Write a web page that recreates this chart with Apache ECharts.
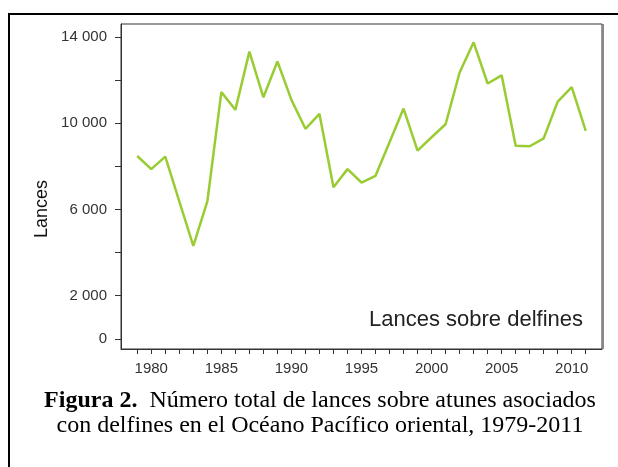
<!DOCTYPE html>
<html>
<head>
<meta charset="utf-8">
<script src="https://cdn.jsdelivr.net/npm/echarts@6/dist/echarts.min.js"></script>
<style>
html,body{margin:0;padding:0;background:#fff;}
#chart{width:618px;height:467px;}
</style>
</head>
<body>
<div id="chart"></div>
<script>
var years = [1979,1980,1981,1982,1983,1984,1985,1986,1987,1988,1989,1990,1991,1992,1993,1994,1995,1996,1997,1998,1999,2000,2001,2002,2003,2004,2005,2006,2007,2008,2009,2010,2011];
var sets = [8480,7870,8450,6370,4310,6370,11440,10620,13320,11200,12860,11080,9740,10430,7030,7870,7250,7560,9120,10680,8730,9350,9950,12350,13750,11840,12220,8960,8930,9300,11000,11670,9640];
var yTickValues = [0,2000,4000,6000,8000,10000,12000,14000];
var yLabelValues = [0,2000,6000,10000,14000];
var xLabelValues = [1980,1985,1990,1995,2000,2005,2010];
var seriesName = 'Lances sobre delfines';
var yName = 'Lances';
var captionBold = 'Figura 2.';
var captionLine1 = 'Número total de lances sobre atunes asociados';
var captionLine2 = 'con delfines en el Océano Pacífico oriental, 1979-2011';

var chart = echarts.init(document.getElementById('chart'), null, {renderer:'canvas'});
var data = years.map(function(y,i){return [y, sets[i]];});
function fmt(v){
  var s = String(Math.round(v));
  return s.replace(/\B(?=(\d{3})+(?!\d))/g, ' ');
}
var sans = 'Liberation Sans, Arial, sans-serif';
var serif = 'Liberation Serif, Times New Roman, serif';
chart.setOption({
  animation:false,
  backgroundColor:'#fff',
  grid:{left:121, top:24, right:16, bottom:118, show:true, borderColor:'#333', borderWidth:1, backgroundColor:'transparent'},
  xAxis:{
    type:'value', min:1977.84, max:2012.16,
    splitLine:{show:false},
    axisLine:{show:true, onZero:false, lineStyle:{color:'#333'}},
    axisTick:{show:true, length:5, lineStyle:{color:'#333'}, customValues:years},
    axisLabel:{customValues:xLabelValues, color:'#333', fontFamily:sans, fontSize:15, margin:12, formatter:function(v){return String(v);}}
  },
  yAxis:{
    type:'value', min:-470, max:14600,
    splitLine:{show:false},
    axisLine:{show:true, onZero:false, lineStyle:{color:'#333'}},
    axisTick:{show:true, length:6, lineStyle:{color:'#333'}, customValues:yTickValues},
    axisLabel:{customValues:yLabelValues, color:'#333', fontFamily:sans, fontSize:15, margin:14, formatter:fmt}
  },
  title:{
    left:315, top:383, textAlign:'center',
    text:'{b|'+captionBold+'}{n|  '+captionLine1+'}\n{n|'+captionLine2+'}',
    textStyle:{
      fontWeight:'normal',
      rich:{
        b:{fontFamily:serif, fontSize:24, fontWeight:'bold', color:'#000', lineHeight:25},
        n:{fontFamily:serif, fontSize:24, fontWeight:'normal', color:'#000', lineHeight:25}
      }
    }
  },
  graphic:[
    {type:'rect', shape:{x:9, y:14, width:800, height:600}, style:{fill:'none', stroke:'#000', lineWidth:2}, z:-1},
    {type:'line', shape:{x1:603, y1:24, x2:603, y2:349}, style:{stroke:'#888', lineWidth:2}, z:10},
    {type:'text', x:42, y:209, rotation:Math.PI/2, style:{text:yName, fontFamily:sans, fontSize:18, fill:'#111', textAlign:'center', textVerticalAlign:'middle'}},
    {type:'text', x:583, y:320, style:{text:seriesName, fontFamily:sans, fontSize:22, fill:'#222', textAlign:'right', textVerticalAlign:'middle'}}
  ],
  series:[{
    name:seriesName, type:'line', data:data, showSymbol:false, symbol:'none',
    lineStyle:{color:'#99cc33', width:2.5}
  }]
});
</script>
</body>
</html>
